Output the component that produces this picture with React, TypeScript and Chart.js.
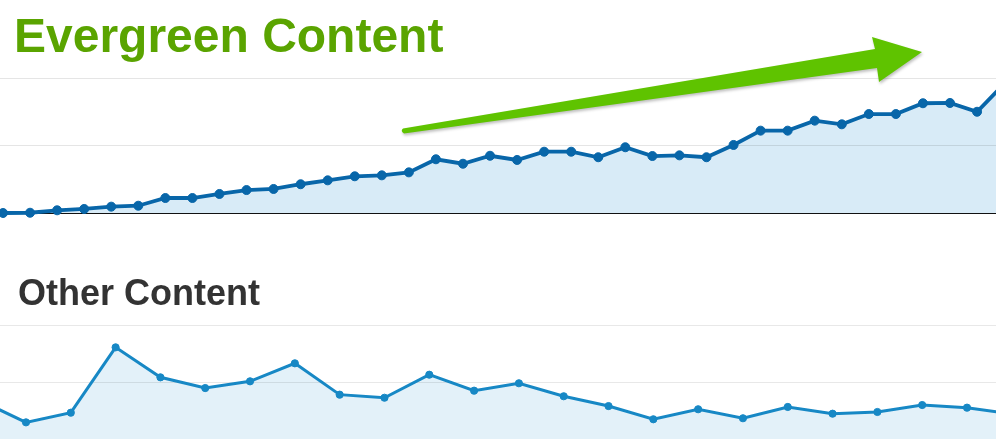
import React, { useEffect, useRef } from 'react';
import { Chart, registerables } from 'chart.js';

Chart.register(...registerables);

const evergreenTitle = 'Evergreen Content';
const otherTitle = 'Other Content';

// Evergreen content: one value per period (last one runs off the right edge)
const evergreenValues = [
  0, 0.2, 2.0, 3.0, 4.7, 5.4, 11.1, 11.1, 14.1, 17.0, 17.8, 21.3, 24.2, 27.2,
  27.9, 30.1, 39.8, 36.5, 42.4, 39.3, 45.4, 45.4, 41.3, 48.7, 42.2, 42.7, 41.3,
  50.4, 61.0, 61.0, 68.4, 65.7, 73.3, 73.3, 81.3, 81.5, 75.0, 95.6,
];

// Other content: first and last periods run off the edges
const otherValues = [
  33.3, 14.6, 23.1, 80.4, 54.1, 44.7, 50.6, 66.4, 38.9, 36.2, 56.4, 42.4, 48.9,
  37.5, 28.9, 17.3, 26.1, 18.2, 28.1, 22.2, 23.7, 29.8, 27.5, 21.9,
];

const yMin = 0;
const yMax = 100;
const yStep = 50;

const WIDTH = 996;

type Cfg = {
  values: number[];
  xMin: number;
  xMax: number;
  line: string;
  fill: string;
  lineWidth: number;
  radius: number;
  padTop: number;
  padBottom: number;
  baseColor: string;
  gridColor: string;
  extra?: any[];
};

function buildChart(canvas: HTMLCanvasElement, c: Cfg) {
  return new Chart(canvas, {
    type: 'line',
    data: {
      datasets: [
        {
          data: c.values.map((v, i) => ({ x: i, y: v })),
          borderColor: c.line,
          backgroundColor: c.fill,
          borderWidth: c.lineWidth,
          pointRadius: c.radius,
          pointBackgroundColor: c.line,
          pointBorderColor: c.line,
          pointBorderWidth: 1,
          fill: 'origin',
          tension: 0,
          clip: false as any,
        },
      ],
    },
    options: {
      responsive: false,
      animation: false,
      layout: {
        autoPadding: false,
        padding: { top: c.padTop, bottom: c.padBottom, left: 0, right: 0 },
      } as any,
      plugins: {
        legend: { display: false },
        tooltip: { enabled: false },
        title: { display: false },
        filler: { drawTime: 'beforeDraw' } as any,
      },
      scales: {
        x: { type: 'linear', min: c.xMin, max: c.xMax, display: false },
        y: {
          min: yMin,
          max: yMax,
          display: true,
          ticks: { display: false, stepSize: yStep },
          grid: {
            drawTicks: false,
            color: (ctx: any) => (ctx.tick && ctx.tick.value === yMin ? c.baseColor : c.gridColor),
            lineWidth: 1,
          },
          border: { display: false },
        },
      },
    },
    plugins: c.extra || [],
  });
}

const arrowPlugin = {
  id: 'greenArrow',
  afterDraw(chart: any) {
    const ctx = chart.ctx;
    ctx.save();
    ctx.shadowColor = 'rgba(0,0,0,0.25)';
    ctx.shadowBlur = 3;
    ctx.shadowOffsetX = 1;
    ctx.shadowOffsetY = 2;
    ctx.fillStyle = '#5fc300';
    ctx.beginPath();
    ctx.moveTo(403, 128.5);
    ctx.lineTo(875, 49);
    ctx.lineTo(872, 37);
    ctx.lineTo(922, 52);
    ctx.lineTo(879, 82);
    ctx.lineTo(877, 68);
    ctx.lineTo(404, 133.5);
    ctx.quadraticCurveTo(400, 131, 403, 128.5);
    ctx.closePath();
    ctx.fill();
    ctx.restore();
  },
};

export default function App() {
  const topRef = useRef<HTMLCanvasElement | null>(null);
  const botRef = useRef<HTMLCanvasElement | null>(null);

  useEffect(() => {
    const top = buildChart(topRef.current!, {
      values: evergreenValues,
      xMin: -0.111,
      xMax: 36.7,
      line: '#0866a9',
      fill: '#d8ebf7',
      lineWidth: 3.8,
      radius: 4.5,
      padTop: 78,
      padBottom: 17,
      baseColor: '#111111',
      gridColor: 'rgba(0,0,0,0.1)',
      extra: [arrowPlugin],
    });
    const bot = buildChart(botRef.current!, {
      values: otherValues,
      xMin: 0.42,
      xMax: 22.647,
      line: '#1788c5',
      fill: '#e3f1f9',
      lineWidth: 3,
      radius: 3.6,
      padTop: 95,
      padBottom: 0,
      baseColor: 'rgba(0,0,0,0.1)',
      gridColor: 'rgba(0,0,0,0.09)',
    });
    return () => {
      top.destroy();
      bot.destroy();
    };
  }, []);

  return (
    <div
      style={{
        position: 'fixed',
        left: 0,
        top: 0,
        width: WIDTH,
        height: 439,
        overflow: 'hidden',
        background: '#ffffff',
        fontFamily: '"Liberation Sans", Arial, sans-serif',
      }}
    >
      <canvas
        ref={topRef}
        width={WIDTH}
        height={230}
        style={{ position: 'absolute', left: 0, top: 0, width: WIDTH, height: 230 }}
      />
      <canvas
        ref={botRef}
        width={WIDTH}
        height={209}
        style={{ position: 'absolute', left: 0, top: 230, width: WIDTH, height: 209 }}
      />
      <div
        style={{
          position: 'absolute',
          left: 14,
          top: 12,
          fontSize: 48,
          lineHeight: '48px',
          fontWeight: 'bold',
          color: '#5aa400',
          whiteSpace: 'nowrap',
        }}
      >
        {evergreenTitle}
      </div>
      <div
        style={{
          position: 'absolute',
          left: 18,
          top: 275,
          fontSize: 36,
          lineHeight: '36px',
          fontWeight: 'bold',
          color: '#333333',
          whiteSpace: 'nowrap',
        }}
      >
        {otherTitle}
      </div>
    </div>
  );
}
